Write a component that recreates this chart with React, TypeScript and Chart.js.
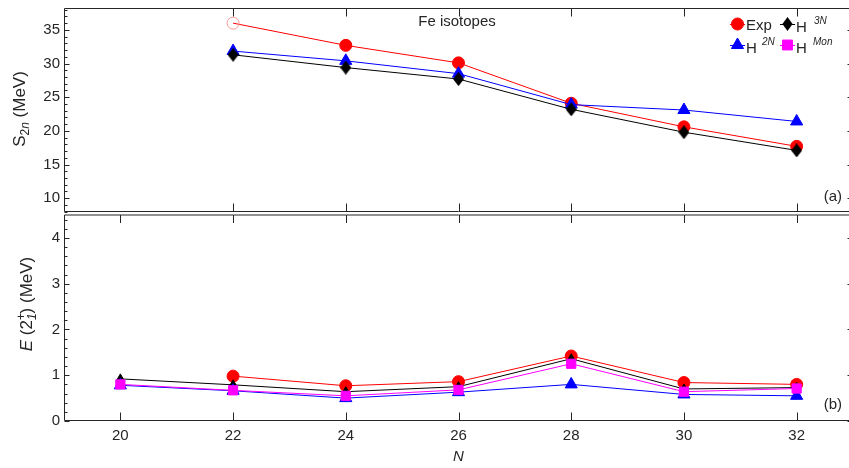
import React, { useEffect, useRef } from 'react';
import { Chart, registerables } from 'chart.js';

Chart.register(...registerables);

// ---------------- data ----------------
const N = [20, 22, 24, 26, 28, 30, 32];
const TOP_X_TICKS = [22, 24, 26, 28, 30, 32];
const BOTTOM_X_TICKS = [20, 22, 24, 26, 28, 30, 32];
const S2N_Y_TICKS = [10, 15, 20, 25, 30, 35];
const E2_Y_TICKS = [0, 1, 2, 3, 4];

// (a) two-neutron separation energies S2n (MeV)
const S2N_EXP: (number | null)[] = [null, 36.0, 32.7, 30.1, 24.1, 20.6, 17.7];
const S2N_H2N: (number | null)[] = [null, 31.85, 30.4, 28.5, 23.9, 23.1, 21.4];
const S2N_H3N: (number | null)[] = [null, 31.3, 29.4, 27.7, 23.2, 19.8, 17.1];
const OPEN_EXP_N = [22];

// (b) E(2+_1) (MeV)
const E2_EXP: (number | null)[] = [null, 0.98, 0.77, 0.86, 1.42, 0.84, 0.8];
const E2_H3N: (number | null)[] = [0.92, 0.79, 0.64, 0.75, 1.36, 0.7, 0.73];
const E2_H2N: (number | null)[] = [0.78, 0.66, 0.5, 0.63, 0.8, 0.58, 0.55];
const E2_MON: (number | null)[] = [0.8, 0.67, 0.55, 0.68, 1.25, 0.64, 0.71];

// ---------------- styling ----------------
const FONT = "'Liberation Sans', Arial, Helvetica, sans-serif";
const TXT = '#262626';
const RED = '#ff0000';
const BLUE = '#0000ff';
const BLACK = '#000000';
const MAGENTA = '#ff00ff';
const W = 861;
const H = 468;

const pts = (vals: (number | null)[]) =>
  N.map((n, i) => ({ x: n, y: vals[i] })).filter((p) => p.y !== null) as { x: number; y: number }[];

function makeDiamond(color: string, w: number, h: number) {
  const c = document.createElement('canvas');
  c.width = w;
  c.height = h;
  const g = c.getContext('2d') as CanvasRenderingContext2D;
  g.fillStyle = color;
  g.beginPath();
  g.moveTo(w / 2, 0);
  g.lineTo(w, h / 2);
  g.lineTo(w / 2, h);
  g.lineTo(0, h / 2);
  g.closePath();
  g.fill();
  return c;
}

type Seg = { t: string; size: number; italic?: boolean; dy?: number; noAdvance?: boolean };

function fontOf(s: Seg) {
  return `${s.italic ? 'italic ' : ''}${s.size}px ${FONT}`;
}

function drawRich(ctx: CanvasRenderingContext2D, segs: Seg[], x: number, y: number, rotate: boolean, align: 'center' | 'left') {
  ctx.save();
  ctx.translate(x, y);
  if (rotate) ctx.rotate(-Math.PI / 2);
  let total = 0;
  const widths = segs.map((s) => {
    ctx.font = fontOf(s);
    const w = ctx.measureText(s.t).width;
    if (!s.noAdvance) total += w;
    return w;
  });
  let cx = align === 'center' ? -total / 2 : 0;
  ctx.textBaseline = 'alphabetic';
  ctx.textAlign = 'left';
  ctx.fillStyle = TXT;
  segs.forEach((s, i) => {
    ctx.font = fontOf(s);
    ctx.fillText(s.t, cx, s.dy || 0);
    if (!s.noAdvance) cx += widths[i];
  });
  ctx.restore();
}

function shape(ctx: CanvasRenderingContext2D, kind: string, x: number, y: number, r: number, color: string) {
  ctx.save();
  ctx.fillStyle = color;
  ctx.strokeStyle = color;
  ctx.lineWidth = 1;
  ctx.beginPath();
  if (kind === 'circle') {
    ctx.arc(x, y, r, 0, Math.PI * 2);
  } else if (kind === 'diamond') {
    ctx.moveTo(x, y - r * 1.15);
    ctx.lineTo(x + r * 0.85, y);
    ctx.lineTo(x, y + r * 1.15);
    ctx.lineTo(x - r * 0.85, y);
  } else if (kind === 'triangle') {
    const s = Math.sin(Math.PI / 3) * r;
    ctx.moveTo(x, y - r);
    ctx.lineTo(x + s, y + r / 2);
    ctx.lineTo(x - s, y + r / 2);
  } else {
    const h = r * Math.SQRT1_2;
    ctx.rect(x - h, y - h, 2 * h, 2 * h);
  }
  ctx.closePath();
  ctx.fill();
  if (kind !== 'diamond') ctx.stroke();
  ctx.restore();
}

const framePlugin = {
  id: 'frame',
  beforeDatasetsDraw(chart: any, _args: any, opts: any) {
    const { ctx, chartArea: a } = chart;
    const xs = chart.scales.x;
    const ys = chart.scales.y;
    ctx.save();
    ctx.strokeStyle = opts.color || TXT;
    ctx.lineWidth = 1;
    const L = Math.round(a.left) + 0.5;
    const R = Math.round(a.right) - 0.5;
    const T = opts.topPix !== undefined ? opts.topPix : Math.round(a.top) + 0.5;
    const B = Math.round(a.bottom) - 0.5;
    ctx.beginPath();
    ctx.moveTo(L, T);
    ctx.lineTo(R, T);
    ctx.lineTo(R, B);
    ctx.lineTo(L, B);
    ctx.closePath();
    for (const v of opts.xTicks as number[]) {
      const px = Math.round(xs.getPixelForValue(v)) + 0.5;
      ctx.moveTo(px, B);
      ctx.lineTo(px, B - 8);
      ctx.moveTo(px, T);
      ctx.lineTo(px, T + 8);
    }
    const major = opts.yTicks as number[];
    for (const v of major) {
      const py = Math.round(ys.getPixelForValue(v)) + 0.5;
      ctx.moveTo(L, py);
      ctx.lineTo(L + 5, py);
      ctx.moveTo(R, py);
      ctx.lineTo(R - 5, py);
    }
    const step = opts.yMinor as number;
    for (let k = Math.ceil(ys.min / step - 1e-9); k * step <= ys.max + 1e-9; k++) {
      const v = k * step;
      if (major.some((m) => Math.abs(m - v) < 1e-6)) continue;
      const py = Math.round(ys.getPixelForValue(v)) + 0.5;
      ctx.moveTo(L, py);
      ctx.lineTo(L + 3, py);
      ctx.moveTo(R, py);
      ctx.lineTo(R - 3, py);
    }
    ctx.stroke();
    ctx.restore();
  },
};

const topTextPlugin = {
  id: 'topText',
  afterDraw(chart: any) {
    const ctx: CanvasRenderingContext2D = chart.ctx;
    ctx.save();
    ctx.fillStyle = TXT;
    ctx.font = `15px ${FONT}`;
    ctx.textAlign = 'center';
    ctx.textBaseline = 'alphabetic';
    ctx.fillText('Fe isotopes', 457, 26);
    ctx.textAlign = 'right';
    ctx.textBaseline = 'middle';
    ctx.fillText('(a)', 842, 197);

    // legend
    const entries = [
      { color: RED, kind: 'circle', r: 6, lx: 730, y: 24 },
      { color: BLACK, kind: 'diamond', r: 6, lx: 780, y: 24 },
      { color: BLUE, kind: 'triangle', r: 7, lx: 730, y: 45 },
      { color: MAGENTA, kind: 'rect', r: 7, lx: 780, y: 45 },
    ];
    for (const e of entries) {
      ctx.strokeStyle = e.color;
      ctx.lineWidth = 1;
      ctx.beginPath();
      ctx.moveTo(e.lx, e.y + 0.5);
      ctx.lineTo(e.lx + 15, e.y + 0.5);
      ctx.stroke();
      shape(ctx, e.kind, e.lx + 7.5, e.y, e.r, e.color);
    }
    ctx.restore();
    drawRich(ctx, [{ t: 'Exp', size: 15 }], 746, 30, false, 'left');
    drawRich(ctx, [{ t: 'H', size: 15 }], 796, 32, false, 'left');
    drawRich(ctx, [{ t: '3N', size: 10, italic: true }], 814, 23.5, false, 'left');
    drawRich(ctx, [{ t: 'H', size: 15 }], 746, 53, false, 'left');
    drawRich(ctx, [{ t: '2N', size: 10, italic: true }], 762, 44.5, false, 'left');
    drawRich(ctx, [{ t: 'H', size: 15 }], 796, 53, false, 'left');
    drawRich(ctx, [{ t: 'Mon', size: 10, italic: true }], 813, 45, false, 'left');

    // y title
    drawRich(
      ctx,
      [
        { t: 'S', size: 17 },
        { t: '2', size: 12, dy: 4 },
        { t: 'n', size: 12, italic: true, dy: 4 },
        { t: ' (MeV)', size: 17 },
      ],
      25,
      109,
      true,
      'center'
    );
  },
};

const bottomTextPlugin = {
  id: 'bottomText',
  afterDraw(chart: any) {
    const ctx: CanvasRenderingContext2D = chart.ctx;
    ctx.save();
    ctx.fillStyle = TXT;
    ctx.font = `15px ${FONT}`;
    ctx.textAlign = 'right';
    ctx.textBaseline = 'middle';
    ctx.fillText('(b)', 842, 405);
    ctx.restore();
    drawRich(
      ctx,
      [
        { t: 'E', size: 17, italic: true },
        { t: ' (2', size: 17 },
        { t: '+', size: 12, dy: -7, noAdvance: true },
        { t: '1', size: 12, italic: true, dy: 4 },
        { t: ')', size: 17 },
        { t: ' (MeV)', size: 17 },
      ],
      31.5,
      304,
      true,
      'center'
    );
  },
};

function lineDs(label: string, data: { x: number; y: number }[], color: string, style: any, r: number, order: number, extra: any = {}) {
  return {
    label,
    data,
    borderColor: color,
    backgroundColor: color,
    borderWidth: 1,
    pointStyle: style,
    pointRadius: r,
    pointBackgroundColor: color,
    pointBorderColor: color,
    pointBorderWidth: 1,
    tension: 0,
    fill: false,
    order,
    clip: false,
    ...extra,
  };
}

function yAxis(min: number, max: number, ticks: number[]) {
  return {
    type: 'linear',
    min,
    max,
    afterBuildTicks: (s: any) => {
      s.ticks = ticks.map((v) => ({ value: v }));
    },
    afterFit: (s: any) => {
      s.width = 56;
      s.paddingTop = 0;
      s.paddingBottom = 0;
    },
    grid: { display: false, drawTicks: false },
    border: { display: false },
    ticks: { padding: 4, color: TXT, font: { size: 15, family: FONT } },
  };
}

export default function App() {
  const topRef = useRef<HTMLCanvasElement>(null);
  const botRef = useRef<HTMLCanvasElement>(null);

  useEffect(() => {
    const expPts = pts(S2N_EXP);
    const diamond = makeDiamond(BLACK, 11, 14);
    const top = new Chart(topRef.current as HTMLCanvasElement, {
      type: 'line',
      data: {
        datasets: [
          lineDs('Exp', expPts, RED, 'circle', 6, 3, {
            pointBackgroundColor: expPts.map((p) => (OPEN_EXP_N.includes(p.x) ? 'rgba(255,255,255,0)' : RED)),
            pointBorderColor: expPts.map((p) => (OPEN_EXP_N.includes(p.x) ? '#ff9a9a' : RED)),
          }),
          lineDs('H 2N', pts(S2N_H2N), BLUE, 'triangle', 7, 2),
          lineDs('H 3N', pts(S2N_H3N), BLACK, diamond, 7, 1),
        ],
      } as any,
      options: {
        responsive: false,
        animation: false,
        events: [],
        layout: { padding: { left: 8, right: 8, top: 6, bottom: H - 212 } },
        scales: {
          x: { type: 'linear', min: 19, max: 33, display: false },
          y: yAxis(7.95, 38.25, S2N_Y_TICKS),
        } as any,
        plugins: {
          legend: { display: false },
          tooltip: { enabled: false },
          frame: { xTicks: TOP_X_TICKS, yTicks: S2N_Y_TICKS, yMinor: 1 },
        } as any,
      },
      plugins: [framePlugin, topTextPlugin],
    });

    const bottom = new Chart(botRef.current as HTMLCanvasElement, {
      type: 'line',
      data: {
        datasets: [
          lineDs('Exp', pts(E2_EXP), RED, 'circle', 6, 4),
          lineDs('H 3N', pts(E2_H3N), BLACK, 'triangle', 5, 3),
          lineDs('H 2N', pts(E2_H2N), BLUE, 'triangle', 7, 2),
          lineDs('H Mon', pts(E2_MON), MAGENTA, 'rect', 6.5, 1),
        ],
      } as any,
      options: {
        responsive: false,
        animation: false,
        events: [],
        layout: { padding: { left: 8, right: 8, top: 215, bottom: 0 } },
        scales: {
          x: {
            type: 'linear',
            min: 19,
            max: 33,
            afterBuildTicks: (s: any) => {
              s.ticks = BOTTOM_X_TICKS.map((v) => ({ value: v }));
            },
            afterFit: (s: any) => {
              s.height = H - 421;
              s.paddingLeft = 0;
              s.paddingRight = 0;
            },
            grid: { display: false, drawTicks: false },
            border: { display: false },
            ticks: { padding: 6, color: TXT, font: { size: 15, family: FONT } },
            title: {
              display: true,
              text: 'N',
              color: TXT,
              font: { size: 15, family: FONT, style: 'italic' },
              padding: { top: 0, bottom: 2 },
            },
          },
          y: yAxis(0, 4.5, E2_Y_TICKS),
        } as any,
        plugins: {
          legend: { display: false },
          tooltip: { enabled: false },
          frame: { xTicks: BOTTOM_X_TICKS, yTicks: E2_Y_TICKS, yMinor: 0.2, topPix: 215 },
        } as any,
      },
      plugins: [framePlugin, bottomTextPlugin],
    });

    return () => {
      top.destroy();
      bottom.destroy();
    };
  }, []);

  return (
    <div style={{ position: 'absolute', left: 0, top: 0, width: 849, height: 468, overflow: 'hidden', background: '#ffffff' }}>
      <canvas ref={topRef} width={W} height={H} style={{ position: 'absolute', left: 0, top: 0, width: W, height: H }} />
      <canvas ref={botRef} width={W} height={H} style={{ position: 'absolute', left: 0, top: 0, width: W, height: H }} />
    </div>
  );
}
